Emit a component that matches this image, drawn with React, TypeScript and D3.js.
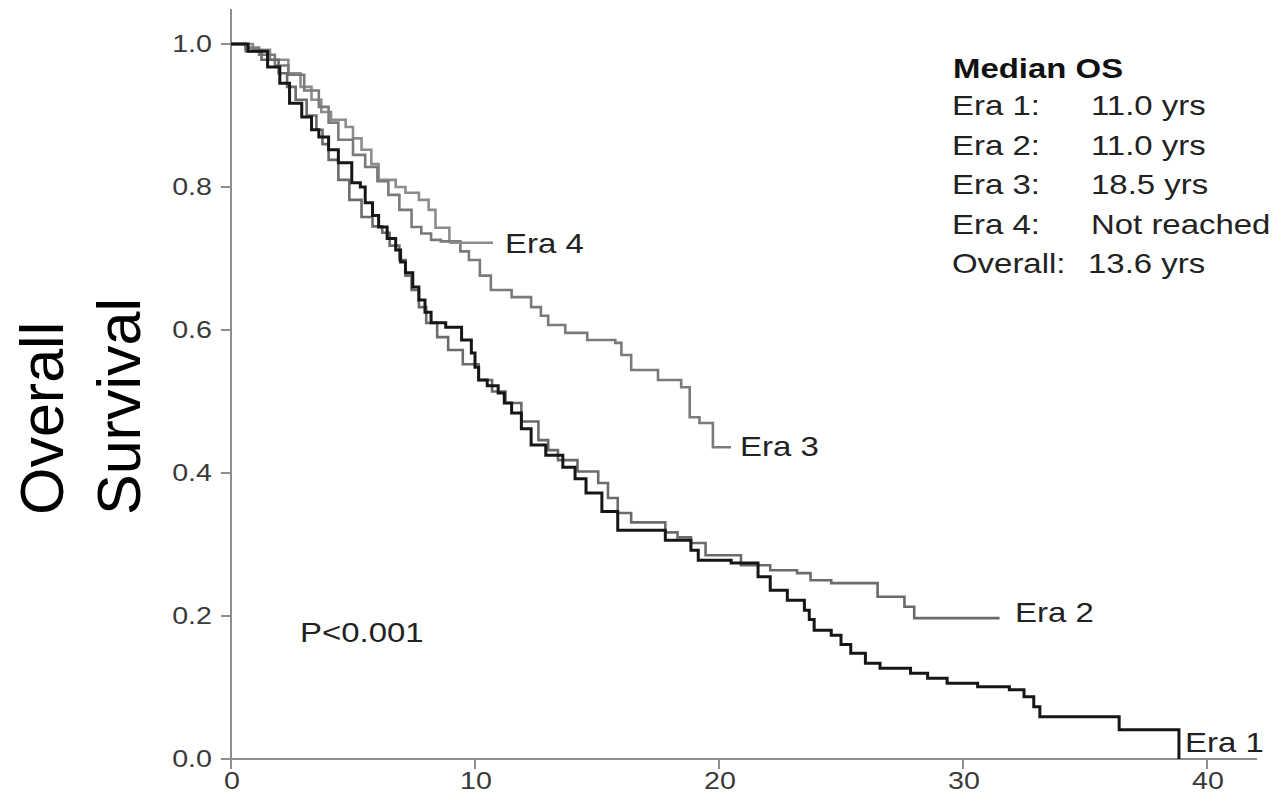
import React from "react";
import * as d3 from "d3";

const W = 1276;
const H = 812;

const xTicks = [0, 10, 20, 30, 40];
const yTicks = [0.0, 0.2, 0.4, 0.6, 0.8, 1.0];

// Era 1 (black)
const era1T = [0, 0.7, 1.5, 2.0, 2.4, 2.9, 3.3, 3.6, 4.0, 4.4, 4.95, 5.3, 5.5, 5.8, 6.05, 6.4, 6.75, 6.95, 7.15, 7.45, 7.7, 7.95, 8.2, 8.8, 9.45, 9.85, 10.0, 10.15, 10.5, 10.95, 11.2, 11.5, 11.9, 12.3, 12.9, 13.6, 14.1, 14.55, 15.2, 15.85, 17.8, 18.85, 19.15, 20.5, 21.6, 22.1, 22.8, 23.5, 23.7, 23.9, 24.6, 25.0, 25.4, 26.0, 26.6, 27.85, 28.55, 29.35, 30.6, 31.9, 32.5, 32.9, 33.15, 36.4, 38.85];
const era1S = [1, 0.99, 0.968, 0.945, 0.917, 0.898, 0.88, 0.87, 0.852, 0.834, 0.806, 0.8, 0.778, 0.76, 0.744, 0.728, 0.712, 0.695, 0.68, 0.66, 0.642, 0.625, 0.61, 0.604, 0.586, 0.568, 0.548, 0.53, 0.522, 0.512, 0.498, 0.484, 0.462, 0.439, 0.425, 0.408, 0.392, 0.372, 0.346, 0.32, 0.306, 0.292, 0.278, 0.274, 0.255, 0.236, 0.222, 0.208, 0.195, 0.18, 0.173, 0.16, 0.148, 0.134, 0.127, 0.12, 0.113, 0.106, 0.101, 0.097, 0.087, 0.073, 0.059, 0.041, 0];

// Era 2
const era2T = [0, 0.6, 1.25, 1.95, 2.3, 2.65, 3.1, 3.5, 3.75, 4.0, 4.4, 4.85, 5.35, 5.8, 6.2, 6.5, 6.9, 7.15, 7.4, 7.7, 8.0, 8.45, 8.9, 9.5, 10.15, 10.7, 11.25, 11.9, 12.6, 13.0, 13.4, 14.2, 15.05, 15.45, 15.85, 16.4, 17.8, 18.3, 18.85, 19.45, 20.9, 22.1, 23.2, 23.75, 24.6, 26.5, 27.6, 28.0, 31.5];
const era2S = [1, 0.99, 0.978, 0.959, 0.94, 0.922, 0.9, 0.88, 0.86, 0.838, 0.81, 0.782, 0.758, 0.745, 0.736, 0.718, 0.698, 0.676, 0.656, 0.632, 0.61, 0.59, 0.572, 0.552, 0.53, 0.514, 0.498, 0.472, 0.446, 0.432, 0.418, 0.402, 0.386, 0.365, 0.344, 0.331, 0.317, 0.31, 0.302, 0.285, 0.271, 0.264, 0.26, 0.25, 0.246, 0.227, 0.213, 0.197, 0.197];

// Era 3
const era3T = [0, 0.6, 1.15, 1.8, 2.35, 3.0, 3.6, 4.0, 4.4, 5.0, 5.5, 6.0, 6.45, 6.9, 7.4, 7.8, 8.2, 8.6, 9.4, 9.75, 10.2, 10.65, 11.5, 12.3, 12.7, 13.0, 13.7, 14.6, 15.75, 16.0, 16.4, 17.5, 18.45, 18.8, 19.2, 19.75, 20.0];
const era3S = [1, 0.995, 0.985, 0.97, 0.957, 0.935, 0.912, 0.89, 0.866, 0.845, 0.828, 0.808, 0.789, 0.768, 0.744, 0.735, 0.726, 0.724, 0.71, 0.698, 0.676, 0.656, 0.646, 0.632, 0.62, 0.607, 0.596, 0.586, 0.582, 0.565, 0.544, 0.53, 0.52, 0.478, 0.47, 0.436, 0.436];

// Era 4
const era4T = [0, 0.9, 1.6, 2.35, 2.85, 3.3, 3.7, 4.1, 4.7, 5.0, 5.35, 5.75, 6.05, 6.75, 7.15, 7.7, 8.1, 8.38, 8.95];
const era4S = [1, 0.992, 0.978, 0.959, 0.94, 0.922, 0.905, 0.894, 0.884, 0.868, 0.852, 0.832, 0.81, 0.8, 0.792, 0.782, 0.768, 0.743, 0.722];

const eraNames = ["Era 1", "Era 2", "Era 3", "Era 4"];
const legendLabels = ["Era 1:", "Era 2:", "Era 3:", "Era 4:", "Overall:"];
const legendValues = ["11.0 yrs", "11.0 yrs", "18.5 yrs", "Not reached", "13.6 yrs"];

const FONT = "'Liberation Sans', Arial, Helvetica, sans-serif";

function SText({ x, y, size, sx = 1.22, anchor = "start", weight = "normal", fill = "#222", children }: any) {
  return (
    <g transform={`translate(${x},${y}) scale(${sx},1)`}>
      <text x={0} y={0} fontSize={size} fontFamily={FONT} fontWeight={weight} fill={fill} textAnchor={anchor}>
        {children}
      </text>
    </g>
  );
}

export default function App() {
  const x = d3.scaleLinear().domain([0, 40]).range([231, 1207]);
  const y = d3.scaleLinear().domain([0, 1]).range([759, 44]);

  const line = d3
    .line<[number, number]>()
    .x((d) => x(d[0]))
    .y((d) => y(d[1]))
    .curve(d3.curveStepAfter);

  const zip = (t: number[], s: number[]) => t.map((v, i) => [v, s[i]] as [number, number]);

  const series = [
    { pts: zip(era1T, era1S), color: "#161616", w: 3 },
    { pts: zip(era2T, era2S), color: "#6b6b6b", w: 2.6 },
    { pts: zip(era3T, era3S), color: "#7a7a7a", w: 2.6 },
    { pts: zip(era4T, era4S), color: "#8c8c8c", w: 2.6 },
  ];

  const axisColor = "#8f8f8f";
  const tickText = "#3a3a3a";

  // label connectors
  const e4End = era4T[era4T.length - 1];
  const e4S = era4S[era4S.length - 1];
  const e3End = era3T[era3T.length - 1];
  const e3S = era3S[era3S.length - 1];

  return (
    <svg width={W} height={H} style={{ position: "absolute", left: 0, top: 0, background: "#fff" }}>
      <rect x={0} y={0} width={W} height={H} fill="#fff" />
      {/* axes */}
      <line x1={x(0)} x2={x(0)} y1={9} y2={y(0)} stroke={axisColor} strokeWidth={2} />
      <line x1={x(0)} x2={x(42.05)} y1={y(0)} y2={y(0)} stroke={axisColor} strokeWidth={2.2} />
      {yTicks.map((t) => (
        <g key={"y" + t}>
          <line x1={x(0) - 10} x2={x(0)} y1={y(t)} y2={y(t)} stroke={axisColor} strokeWidth={2} />
          <SText x={212} y={y(t) + 8} size={23.5} anchor="end" fill={tickText}>
            {t.toFixed(1)}
          </SText>
        </g>
      ))}
      {xTicks.map((t) => (
        <g key={"x" + t}>
          <line x1={x(t)} x2={x(t)} y1={y(0)} y2={y(0) + 10} stroke={axisColor} strokeWidth={2} />
          <SText x={x(t) + 1} y={789} size={23.5} anchor="middle" fill={tickText}>
            {String(t)}
          </SText>
        </g>
      ))}

      {/* curves (draw lightest first) */}
      {series
        .slice()
        .reverse()
        .map((s, i) => (
          <path key={i} d={line(s.pts) || ""} fill="none" stroke={s.color} strokeWidth={s.w} strokeLinejoin="miter" />
        ))}

      {/* connectors */}
      <line x1={x(e4End)} x2={493} y1={y(e4S)} y2={y(e4S)} stroke="#8c8c8c" strokeWidth={2.4} />
      <line x1={x(e3End)} x2={731} y1={y(e3S)} y2={y(e3S)} stroke="#7a7a7a" strokeWidth={2.4} />

      {/* curve labels */}
      <SText x={505} y={253} size={27}>{eraNames[3]}</SText>
      <SText x={740} y={456} size={27}>{eraNames[2]}</SText>
      <SText x={1015} y={622} size={27}>{eraNames[1]}</SText>
      <SText x={1185} y={752} size={27}>{eraNames[0]}</SText>

      <SText x={300} y={642} size={27}>P&lt;0.001</SText>

      {/* legend */}
      <SText x={953} y={78} size={27} weight="bold" fill="#111">Median OS</SText>
      {legendLabels.map((l, i) => (
        <g key={l}>
          <SText x={952} y={115 + i * 39.6} size={27}>{l}</SText>
          <SText x={i === 4 ? 1088 : 1091} y={115 + i * 39.6} size={27}>{legendValues[i]}</SText>
        </g>
      ))}

      {/* y axis title */}
      <text transform="translate(63,515) rotate(-90)" fontSize={61} fontFamily={FONT} fill="#000">Overall</text>
      <text transform="translate(140,515) rotate(-90)" fontSize={61} fontFamily={FONT} fill="#000">Survival</text>
    </svg>
  );
}
